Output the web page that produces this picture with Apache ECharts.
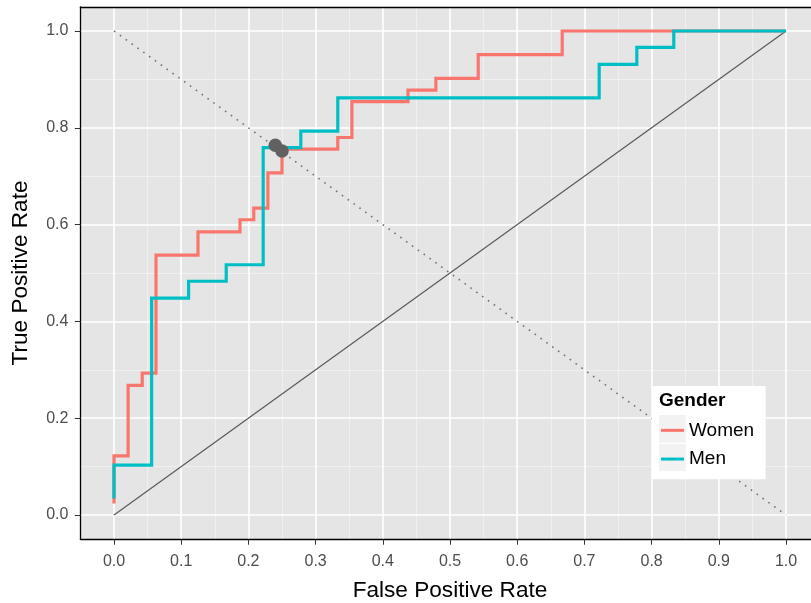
<!DOCTYPE html>
<html>
<head>
<meta charset="utf-8">
<script src="https://cdn.jsdelivr.net/npm/echarts@6/dist/echarts.min.js"></script>
<style>
  html, body { margin: 0; padding: 0; background: #ffffff; }
  #chart { width: 811px; height: 603px; }
</style>
</head>
<body>
<div id="chart"></div>
<script>
// ROC curve corners (false positive rate, true positive rate) per group
const womenFPR = [0, 0, 0.021, 0.042, 0.0625, 0.125, 0.1875, 0.208, 0.229, 0.25, 0.333, 0.354, 0.4375, 0.479, 0.542, 0.667, 1.0];
const womenTPR = [0.024, 0.122, 0.268, 0.293, 0.537, 0.585, 0.610, 0.634, 0.707, 0.756, 0.780, 0.854, 0.878, 0.902, 0.951, 1.0, 1.0];
const menFPR = [0, 0, 0.056, 0.111, 0.167, 0.222, 0.278, 0.333, 0.722, 0.778, 0.833, 1.0];
const menTPR = [0.034, 0.103, 0.448, 0.483, 0.517, 0.759, 0.793, 0.862, 0.931, 0.966, 1.0, 1.0];

// Selected cut-off points on the curves
const cutoffFPR = [0.240, 0.250];
const cutoffTPR = [0.764, 0.752];

const groups = ['Women', 'Men'];
const groupColors = ['#F8766D', '#00BFC4'];

// Axis breaks
const xTicks = [0, 0.1, 0.2, 0.3, 0.4, 0.5, 0.6, 0.7, 0.8, 0.9, 1.0];
const xMinorBreaks = [0.05, 0.15, 0.25, 0.35, 0.45, 0.55, 0.65, 0.75, 0.85, 0.95];
const yTicks = [0, 0.2, 0.4, 0.6, 0.8, 1.0];
const yMinorBreaks = [0.1, 0.3, 0.5, 0.7, 0.9];

const FONT = '"Liberation Sans", Arial, Helvetica, sans-serif';
const pairs = (xs, ys) => xs.map((x, i) => [x, ys[i]]);

// ROC staircase: move right to the next FPR, then up to the next TPR
function stairs(xs, ys) {
  const pts = [[xs[0], ys[0]]];
  for (let i = 1; i < xs.length; i++) {
    pts.push([xs[i], ys[i - 1]]);
    pts.push([xs[i], ys[i]]);
  }
  return pts;
}

const majorStyle = { color: '#FFFFFF', width: 1.6, type: 'solid' };
const minorStyle = { color: '#F2F2F2', width: 0.8, type: 'solid' };
const gridLines = [
  ...xMinorBreaks.map(v => ({ xAxis: v, lineStyle: minorStyle })),
  ...yMinorBreaks.map(v => ({ yAxis: v, lineStyle: minorStyle })),
  ...xTicks.map(v => ({ xAxis: v, lineStyle: majorStyle })),
  ...yTicks.map(v => ({ yAxis: v, lineStyle: majorStyle }))
];

const chart = echarts.init(document.getElementById('chart'), null, { renderer: 'canvas' });

const axisCommon = {
  type: 'value',
  min: -0.05,
  max: 1.05,
  interval: 0.05,
  splitLine: { show: false },
  axisLine: { show: true, onZero: false, lineStyle: { color: '#000000', width: 1.3 } },
  z: 5
};

chart.setOption({
  animation: false,
  textStyle: { fontFamily: FONT },
  grid: {
    left: 80.4,
    right: -8.6,
    top: 6.8,
    bottom: 63.8,
    containLabel: false,
    outerBoundsMode: 'none',
    show: true,
    backgroundColor: '#E5E5E5',
    borderWidth: 0
  },
  xAxis: [
    Object.assign({}, axisCommon, {
      position: 'bottom',
      axisTick: { show: true, customValues: xTicks, length: 5.5, lineStyle: { color: '#333333', width: 1 } },
      axisLabel: {
        customValues: xTicks,
        formatter: v => v.toFixed(1),
        margin: 14,
        fontSize: 16,
        color: '#4D4D4D',
        fontFamily: FONT
      },
      name: 'False Positive Rate',
      nameLocation: 'middle',
      nameGap: 40,
      nameTextStyle: { fontSize: 22.6, color: '#000000', fontFamily: FONT }
    }),
    Object.assign({}, axisCommon, {
      position: 'top',
      axisTick: { show: false },
      axisLabel: { show: false }
    })
  ],
  yAxis: [
    Object.assign({}, axisCommon, {
      position: 'left',
      axisTick: { show: true, customValues: yTicks, length: 5.5, lineStyle: { color: '#333333', width: 1 } },
      axisLabel: {
        customValues: yTicks,
        formatter: v => v.toFixed(1),
        margin: 12,
        fontSize: 16,
        color: '#4D4D4D',
        fontFamily: FONT
      },
      name: 'True Positive Rate',
      nameLocation: 'middle',
      nameGap: 48,
      nameTextStyle: { fontSize: 22.6, color: '#000000', fontFamily: FONT }
    })
  ],
  legend: {
    data: groups,
    orient: 'vertical',
    left: 661,
    top: 416,
    padding: 0,
    itemGap: 0,
    itemWidth: 23,
    itemHeight: 3,
    icon: 'rect',
    selectedMode: false,
    textStyle: { fontSize: 19, color: '#000000', lineHeight: 28.7, fontFamily: FONT },
    z: 30
  },
  graphic: {
    elements: [
      { type: 'rect', z: 20, silent: true, shape: { x: 651.7, y: 386, width: 114, height: 93.3 }, style: { fill: '#FFFFFF' } },
      { type: 'rect', z: 21, silent: true, shape: { x: 659, y: 415, width: 26.7, height: 27.7 }, style: { fill: '#F2F2F2' } },
      { type: 'rect', z: 21, silent: true, shape: { x: 659, y: 444, width: 26.7, height: 27.2 }, style: { fill: '#F2F2F2' } },
      { type: 'text', z: 21, silent: true, style: { x: 659, y: 401, text: 'Gender', font: 'bold 19px ' + FONT, fill: '#000000', verticalAlign: 'middle' } }
    ]
  },
  series: [
    {
      // panel grid lines
      type: 'line',
      data: [[0.5, 0.5]],
      showSymbol: false,
      lineStyle: { opacity: 0 },
      silent: true,
      z: 1,
      markLine: {
        z: 1,
        silent: true,
        symbol: 'none',
        label: { show: false },
        lineStyle: { type: 'solid' },
        data: gridLines
      }
    },
    {
      // chance line
      type: 'line',
      data: [[0, 0], [1, 1]],
      showSymbol: false,
      silent: true,
      z: 2,
      lineStyle: { color: '#595959', width: 1.2 }
    },
    {
      // reverse diagonal
      type: 'line',
      data: [[0, 1], [1, 0]],
      showSymbol: false,
      silent: true,
      z: 2,
      lineStyle: { color: '#737373', width: 1.6, type: [1.6, 5.6] }
    },
    {
      name: groups[0],
      type: 'line',
      data: stairs(womenFPR, womenTPR),
      showSymbol: false,
      z: 3,
      itemStyle: { color: groupColors[0] },
      lineStyle: { color: groupColors[0], width: 3.2, cap: 'butt', join: 'miter' }
    },
    {
      name: groups[1],
      type: 'line',
      data: stairs(menFPR, menTPR),
      showSymbol: false,
      z: 3,
      itemStyle: { color: groupColors[1] },
      lineStyle: { color: groupColors[1], width: 3.2, cap: 'butt', join: 'miter' }
    },
    {
      type: 'scatter',
      data: pairs(cutoffFPR, cutoffTPR),
      symbolSize: 13.5,
      itemStyle: { color: '#616161', opacity: 1 },
      z: 4
    }
  ]
});
</script>
</body>
</html>
